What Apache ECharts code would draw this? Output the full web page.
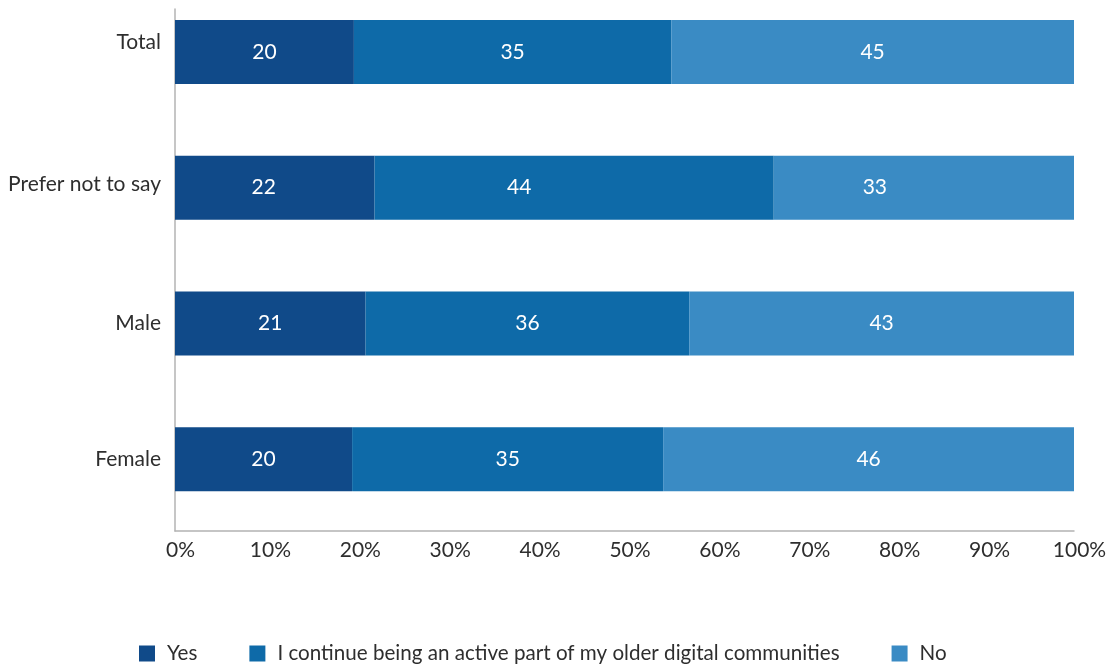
<!DOCTYPE html>
<html>
<head>
<meta charset="utf-8">
<script src="https://cdn.jsdelivr.net/npm/echarts@6/dist/echarts.min.js"></script>
<style>
  html, body { margin: 0; padding: 0; background: #ffffff; }
  #chart { width: 1108px; height: 667px; }
</style>
</head>
<body>
<div id="chart"></div>
<script>
// Respondent groups, top to bottom
const categories = ['Total', 'Prefer not to say', 'Male', 'Female'];

// Share of respondents per answer (%)
const yesValues = [19.9, 22.2, 21.2, 19.7];
const activeValues = [35.3, 44.4, 36.0, 34.6];
const noValues = [44.8, 33.4, 42.8, 45.7];

const seriesNames = ['Yes', 'I continue being an active part of my older digital communities', 'No'];
const seriesColors = ['#104a89', '#0e6aa8', '#3a8bc4'];

const FONT = 'Lato';
const FONT_SIZE = 21;
const TEXT = '#2e2e2e';

// horizontal nudge of the value labels in the "Prefer not to say" row, per series
const preferRowLabelShift = [-11, -55, -49];
// vertical lift of each category name (px, upward)
const categoryLift = [10, 3, 0, 0];

const chart = echarts.init(document.getElementById('chart'));

function barSeries(idx, values) {
  return {
    name: seriesNames[idx],
    type: 'bar',
    stack: 'total',
    xAxisIndex: 1,
    yAxisIndex: 1,
    barWidth: 64,
    data: values.map((v, i) => i === 1
      ? { value: v, label: { offset: [preferRowLabelShift[idx], 0] } }
      : v),
    itemStyle: { color: seriesColors[idx] },
    label: {
      show: true,
      position: 'inside',
      color: '#ffffff',
      fontFamily: FONT,
      fontSize: FONT_SIZE,
      formatter: p => Math.round(p.value)
    },
    emphasis: { disabled: true }
  };
}

const categoryRich = {};
categoryLift.forEach((lift, i) => {
  categoryRich['c' + i] = {
    color: TEXT,
    fontFamily: FONT,
    fontSize: FONT_SIZE,
    padding: [0, 0, lift * 2, 0]
  };
});

chart.setOption({
  animation: false,
  grid: [
    // frame holding the axis lines and percentage labels
    { left: 175, right: 34, top: 9, height: 522, outerBoundsMode: 'none' },
    // bar area
    { left: 175, right: 34, top: -16, height: 543, outerBoundsMode: 'none' }
  ],
  xAxis: [
    {
      gridIndex: 0,
      type: 'value',
      min: 0,
      max: 100,
      interval: 10,
      axisLine: { show: true, lineStyle: { color: '#b3b3b3', width: 1.5 } },
      axisTick: { show: false },
      splitLine: { show: false },
      axisLabel: {
        formatter: '{value}%',
        color: TEXT,
        fontFamily: FONT,
        fontSize: FONT_SIZE,
        margin: 9,
        padding: [0, 0, 0, 11]
      }
    },
    { gridIndex: 1, type: 'value', min: 0, max: 100, show: false }
  ],
  yAxis: [
    {
      gridIndex: 0,
      type: 'value',
      min: 0,
      max: 1,
      axisLine: { show: true, lineStyle: { color: '#b3b3b3', width: 1.5 } },
      axisTick: { show: false },
      axisLabel: { show: false },
      splitLine: { show: false }
    },
    {
      gridIndex: 1,
      type: 'category',
      inverse: true,
      data: categories,
      axisLine: { show: false },
      axisTick: { show: false },
      axisLabel: {
        color: TEXT,
        fontFamily: FONT,
        fontSize: FONT_SIZE,
        margin: 14,
        formatter: (value, index) => '{c' + index + '|' + value + '}',
        rich: categoryRich
      }
    }
  ],
  legend: {
    left: 139,
    top: 643,
    padding: 0,
    icon: 'rect',
    itemWidth: 16,
    itemHeight: 16,
    itemGap: 52,
    textStyle: { color: TEXT, fontFamily: FONT, fontSize: 20.6, padding: [0, 0, 0, 7] },
    selectedMode: false,
    data: seriesNames
  },
  series: [
    barSeries(0, yesValues),
    barSeries(1, activeValues),
    barSeries(2, noValues)
  ]
});
</script>
</body>
</html>
